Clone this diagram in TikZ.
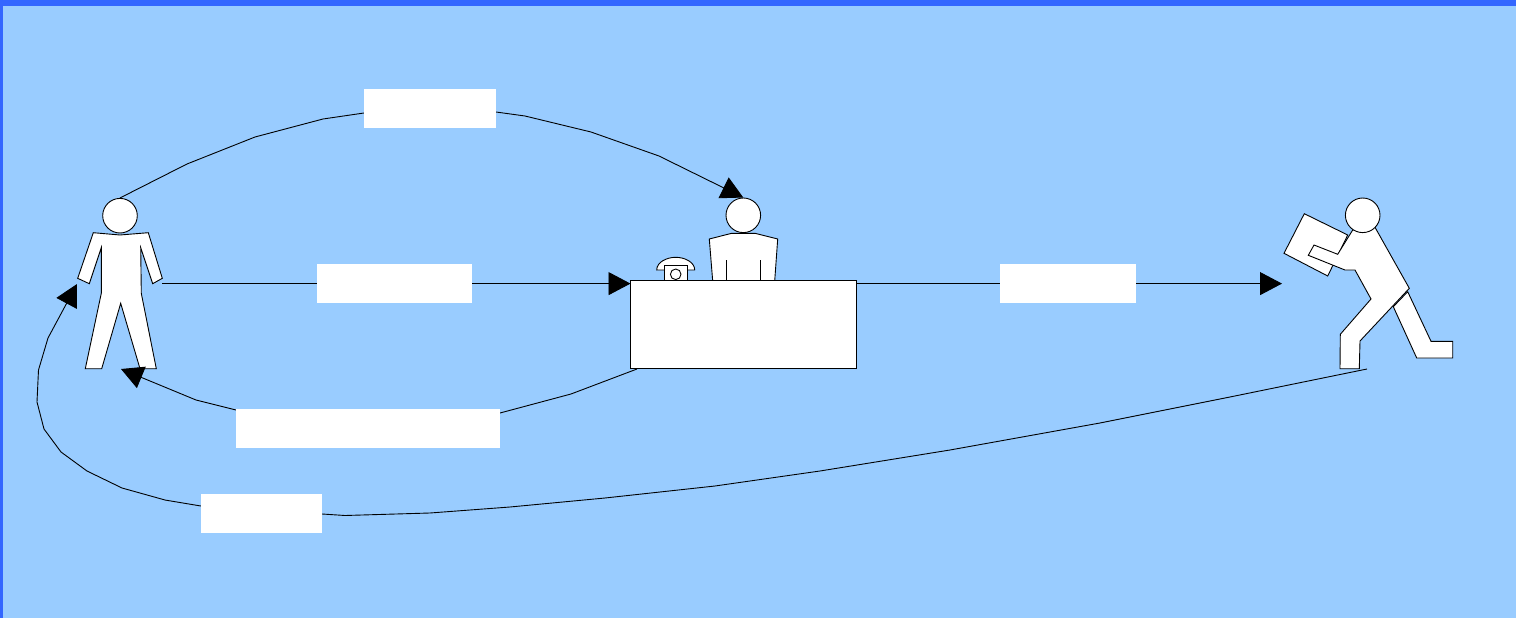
\documentclass[tikz,border=0pt]{standalone}
\usetikzlibrary{arrows.meta}
\definecolor{skyfill}{HTML}{99CCFF}
\definecolor{edgeblue}{HTML}{3366FF}
\tikzset{
  figure/.style={draw=black,fill=white,line width=0.9pt,line join=miter},
  headnode/.style={circle,figure,minimum size=34.6pt,inner sep=0pt},
  desknode/.style={rectangle,figure,minimum width=226.5pt,minimum height=88pt,inner sep=0pt},
  blank/.style={rectangle,fill=white,draw=none,inner sep=0pt},
  flow/.style={draw=black,line width=0.9pt,-{Triangle[length=22pt,width=23pt]}},
  plain/.style={draw=black,line width=0.9pt}
}
\begin{document}
\begin{tikzpicture}[x=1pt,y=-1pt]
\useasboundingbox (0,0) rectangle (1516,618);
\fill[skyfill] (0,0) rectangle (1516,618);
\fill[edgeblue] (0,0) rectangle (1516,6);
\fill[edgeblue] (0,0) rectangle (3,618);

% customer
\path[figure] (93.3,232.7) -- (120,235) -- (148.3,232.7) -- (162.3,278.3) -- (152.7,283.7)
  -- (140.7,247.7) -- (141.3,293.3) -- (156.3,368.7) -- (140,368.7) -- (120.7,303.3)
  -- (101.7,368.7) -- (85.3,368.7) -- (101.3,293.3) -- (101.3,247.7) -- (89.3,283.7)
  -- (77.7,278.3) -- cycle;
\node[headnode] (customer) at (120,215.7) {};

% clerk
\path[figure] (712.7,281) -- (709.3,239) -- (731.7,233.3) -- (755,233.3) -- (777.7,239) -- (774.7,281) -- cycle;
\draw[plain] (726.7,260) -- (726.7,281) (760.7,260) -- (760.7,281);
\node[headnode] (clerk) at (743.3,215.3) {};

% telephone
\path[figure] (656.7,270) .. controls (656.7,262) and (667,257.3) .. (675.7,257.3)
  .. controls (684.5,257.3) and (694.7,262) .. (694.7,270) -- (656.7,270) -- cycle;
\path[figure] (664.3,265) rectangle (687.7,281);
\node[circle,figure,minimum size=10.6pt,inner sep=0pt] (dial) at (675.7,274.3) {};

% desk
\node[desknode] (desk) at (743.5,324.8) {};

% porter
\path[figure] (1304.3,213.7) -- (1347.7,235) -- (1327.7,276) -- (1284,253.3) -- cycle;
\path[figure] (1407.7,291.7) -- (1431,341.3) -- (1452.7,341.3) -- (1452.7,358) -- (1416.7,358) -- (1393.3,306.7) -- cycle;
\path[figure] (1375,227.3) -- (1409.3,288.3) -- (1360,341) -- (1359.3,368.7) -- (1340,368.7)
  -- (1340.3,334.3) -- (1371,299) -- (1355,270) -- (1345,270) -- (1308.3,255.3) -- (1314,245)
  -- (1337.7,254.3) -- (1352.7,230) -- cycle;
\node[headnode] (porter) at (1362.7,215.3) {};

% free connector ends
\coordinate (customerHand) at (162,283.6);
\coordinate (customerSide) at (77,284);
\coordinate (customerFoot) at (121,369);
\coordinate (deskLeft) at (630.5,283.6);
\coordinate (deskRight) at (857,283.6);
\coordinate (deskFoot) at (637,369);
\coordinate (porterFront) at (1282,283.6);
\coordinate (porterFoot) at (1367,369);

% connectors
\draw[flow] (customer.north) -- (187,164) -- (255,137) -- (323,119) -- (364,113) -- (496,112)
  -- (525,116) -- (591,132) -- (659,156) -- (clerk.north);
\draw[flow] (customerHand) -- (deskLeft);
\draw[flow] (deskRight) -- (porterFront);
\draw[flow] (deskFoot) -- (571,394) -- (500,413) -- (236,410) -- (196,400) -- (customerFoot);
\draw[flow] (porterFoot) -- (1230,397) -- (1100,423) -- (950,450) -- (820,471) -- (715,486)
  -- (605,498) -- (510,507) -- (430,513) -- (345,515.5) -- (322,514) -- (201,506) -- (165,500)
  -- (122,488) -- (87,471) -- (61,452) -- (44,429) -- (37,402) -- (38.5,370) -- (48,338) -- (customerSide);

% blank labels
\node[blank,minimum width=132pt,minimum height=39pt] (labelTop) at (430,108.5) {};
\node[blank,minimum width=155pt,minimum height=39pt] (labelMid) at (394.5,283.5) {};
\node[blank,minimum width=136pt,minimum height=39pt] (labelRight) at (1068,283.5) {};
\node[blank,minimum width=264pt,minimum height=39pt] (labelLow) at (368,428.5) {};
\node[blank,minimum width=121pt,minimum height=39pt] (labelBottom) at (261.5,513.5) {};
\end{tikzpicture}
\end{document}
